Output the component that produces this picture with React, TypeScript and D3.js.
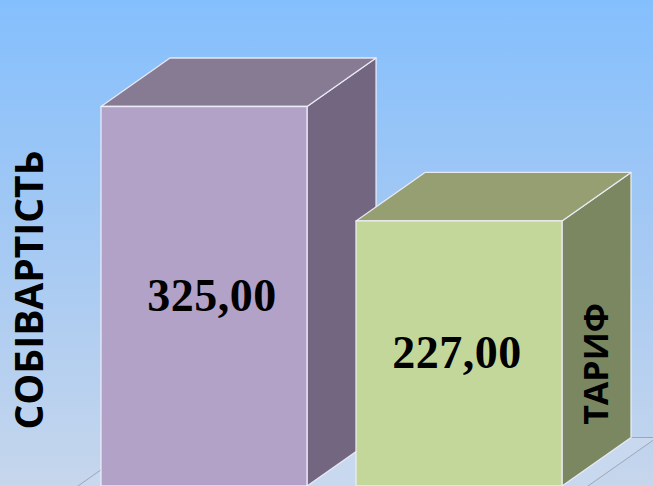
import React from "react";
import * as d3 from "d3";

const categories = ["СОБІВАРТІСТЬ", "ТАРИФ"];
const values = [325, 227];
const valueLabels = ["325,00", "227,00"];

const W = 653;
const H = 486;

const frontColors = ["#b3a2c7", "#c4d79b"];
const topColors = ["#877a93", "#959f72"];
const sideColors = ["#736680", "#7b8760"];

export default function App() {
  const base = 486;
  const depthX = 69;
  const depthY = 48.5;

  const x = d3
    .scaleBand<string>()
    .domain(categories)
    .range([101, 562])
    .paddingInner(0.192)
    .paddingOuter(0);
  const bw = x.bandwidth();

  const y = d3.scaleLinear().domain([0, 400]).range([base, base - 400 * 1.1677]);

  const floorL = (x(categories[0]) as number) - 23;
  const floorR = (x(categories[categories.length - 1]) as number) + bw + 26;
  const ext = 20;
  const fdx = (depthX * ext) / depthY;
  const floorPts = [
    [floorL - fdx, base + ext],
    [floorL + depthX, base - depthY],
    [floorR + depthX, base - depthY],
    [floorR - fdx, base + ext],
  ];

  const edge = "rgba(240,240,250,0.9)";

  return (
    <div style={{ position: "fixed", left: 0, top: 0, width: W, height: H }}>
      <svg width={W} height={H} style={{ display: "block" }}>
        <defs>
          <linearGradient id="bg" x1="0" y1="0" x2="0" y2="1">
            <stop offset="0%" stopColor="#84bffd" />
            <stop offset="45%" stopColor="#a2c8f4" />
            <stop offset="100%" stopColor="#c6d6ec" />
          </linearGradient>
        </defs>
        <rect x={0} y={0} width={W} height={H} fill="url(#bg)" />
        <polygon
          points={floorPts.map((p) => p.join(",")).join(" ")}
          fill="#c8d8ee"
          stroke="#9ea6b6"
          strokeWidth={1}
        />
        {categories.map((c, i) => {
          const x0 = x(c) as number;
          const x1 = x0 + bw;
          const yt = y(values[i]);
          const front = `${x0},${yt} ${x1},${yt} ${x1},${base} ${x0},${base}`;
          const top = `${x0},${yt} ${x0 + depthX},${yt - depthY} ${x1 + depthX},${yt - depthY} ${x1},${yt}`;
          const side = `${x1},${yt} ${x1 + depthX},${yt - depthY} ${x1 + depthX},${base - depthY} ${x1},${base}`;
          return (
            <g key={c}>
              <polygon points={side} fill={sideColors[i]} stroke={edge} strokeWidth={1.3} strokeLinejoin="round" />
              <polygon points={top} fill={topColors[i]} stroke={edge} strokeWidth={1.3} strokeLinejoin="round" />
              <polygon points={front} fill={frontColors[i]} stroke={edge} strokeWidth={1.3} strokeLinejoin="round" />
            </g>
          );
        })}
        {categories.map((c, i) => {
          const x0 = x(c) as number;
          const yt = y(values[i]);
          const cx = x0 + bw / 2 + (i === 0 ? 8 : -2);
          const cy = (yt + base) / 2 + 15;
          return (
            <text
              key={"v" + c}
              x={cx}
              y={cy}
              textAnchor="middle"
              fontFamily="'Liberation Serif', 'Times New Roman', serif"
              fontWeight="bold"
              fontSize={46}
              letterSpacing={0.5}
              fill="#000"
            >
              {valueLabels[i]}
            </text>
          );
        })}
        <text
          transform="translate(43,290) rotate(-90)"
          textAnchor="middle"
          fontFamily="'Open Sans', sans-serif"
          fontWeight={700}
          fontSize={39}
          fill="#000"
        >
          {categories[0]}
        </text>
        <text
          transform="translate(608,364) rotate(-90)"
          textAnchor="middle"
          fontFamily="'Open Sans', sans-serif"
          fontWeight={700}
          fontSize={34}
          fill="#000"
        >
          {categories[1]}
        </text>
      </svg>
    </div>
  );
}
